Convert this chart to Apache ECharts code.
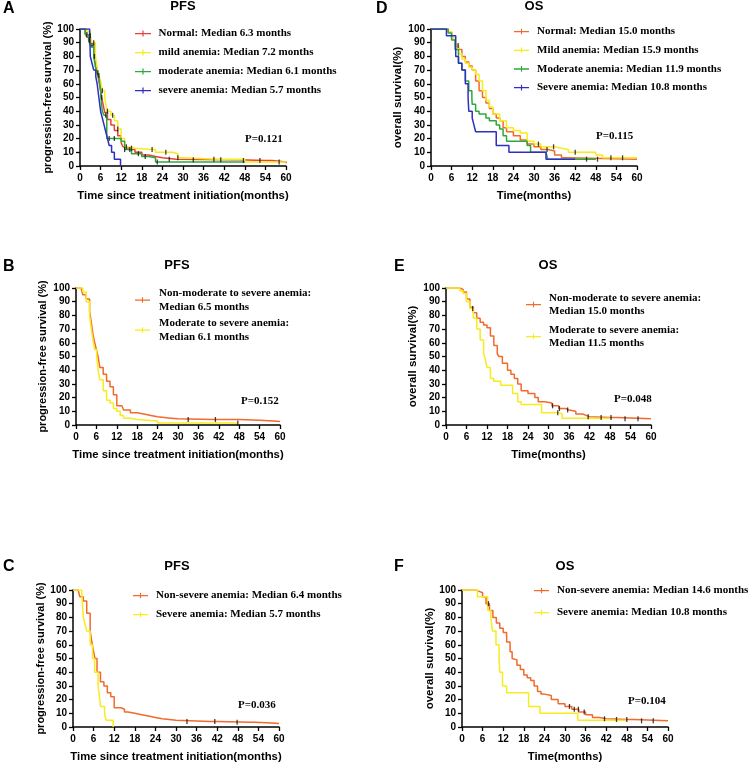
<!DOCTYPE html>
<html><head><meta charset="utf-8">
<script src="https://cdn.jsdelivr.net/npm/echarts@6/dist/echarts.min.js"></script>
<style>html,body{margin:0;padding:0;background:#fff;}#c{width:753px;height:765px;}</style>
</head><body><div id="c"></div>
<script>
// ---- Panel A: PFS by anemia grade ([months, % surviving]) ----
const pfsNormal = [[0,100],[1.5,97],[2,94],[3,90],[4,82],[4.5,75],[5,68],[5.5,62],[6,55],[6.3,50],[6.8,44],[7.2,39],[8,34],[9,30],[10,26],[11,22],[12,17],[12.5,14],[14,12],[16,10],[18,8],[20,7],[22,6],[24,5],[28,4.5],[44,4.5],[46,4],[54,4],[56,3.5],[58,3],[60,2]];
const pfsMild = [[0,100],[2,98],[3,95],[3.5,90],[4.5,80],[5,72],[5.5,66],[6,62],[6.5,55],[7.2,50],[7.5,45],[8,40],[9,37],[10,33],[11,27],[12,20],[13,14],[14,13],[16,12],[21,12],[22,10],[27,9],[28.5,6],[30,5],[40,5],[48,3],[60,2.5]];
const pfsModerate = [[0,100],[1.5,96],[2.5,92],[3,88],[4,80],[4.5,72],[5,68],[5.5,65],[6,55],[6.1,50],[6.5,40],[7,37],[7.8,20],[11.2,20],[12,18],[13,12],[15,9],[18,7],[20,6],[22,3],[48,3]];
const pfsSevere = [[0,100],[2.8,100],[3,80],[3.5,75],[4,70],[4.6,65],[5,60],[5.5,50],[6,40],[6.5,35],[7,30],[7.5,25],[8,20],[8.5,15],[9.2,10],[10,5],[11.8,0]];
const censorA = {normal:[26,33,41,47.6,52.4,58], mild:[3,4,5.5,6.5,8,9.5,11,13.5,15,21,25,28.5,39], moderate:[2,2.7,3.5,4.2,5.2,6.3,7.5,8.5,10,13,14.5,17,19,22.5]};

// ---- Panel D: OS by anemia grade ----
const osNormal = [[0,100],[4,100],[5,98],[6,93],[7,88],[8,85],[9,80],[10,76],[11,73],[12,70],[13,62],[14,55],[15,50],[16,46],[17,42],[18,38],[19,35],[20,33],[21,28],[22,25],[24,22],[26,19],[28,16],[30,14],[32,12],[34,11],[36,8],[38,6],[40,5],[60,5]];
const osMild = [[0,100],[5,98],[6,93],[7,88],[8,82],[9,78],[10,75],[11,72],[12,70],[13,67],[14,62],[15,55],[16,48],[17,43],[18,38],[20,33],[22,28],[24,26],[26,24],[28,18],[30,16],[32,14],[36,13],[38,12],[40,10],[48,8],[50,6],[60,6]];
const osModerate = [[0,100],[5,97],[6,92],[7,85],[8,75],[9,70],[10,62],[11,55],[11.9,50],[12,45],[13,40],[14,38],[16,35],[17,33],[19,30],[20,27],[21,22],[22,18],[27,18],[28,15],[29,10],[33.5,9],[34,5],[48,5]];
const osSevere = [[0,100],[4.5,95],[7.2,80],[8,75],[9,70],[10,60],[10.8,50],[11,40],[12,35],[12.5,30],[13,25],[19,15],[22.7,10],[33.5,5],[42,5]];
const censorD = {normal:[33.8,45.3,48.5], mild:[7.9,31.3,35.7,42,52.4,55.8]};

// ---- Panel B: PFS, moderate-to-severe anemia vs not ----
const pfsNonMod = [[0,100],[1.5,100],[2,95],[3,92],[4,83],[4.5,75],[5,66],[5.5,60],[6,55],[6.5,50],[7,42],[8,37],[9,32],[10,28],[11,22],[12,14],[13.5,13],[14,11],[16,9],[18,8],[20,7],[22,6],[24,5],[28,4.5],[30,4],[40,4],[48,3.5],[54,3],[58,2.5],[60,2]];
const pfsModSev = [[0,100],[2,97],[3,90],[4,80],[4.5,70],[5,62],[5.5,55],[6.1,50],[6.5,40],[7,33],[8,25],[9,18],[10,16],[11,12],[12,10],[13,7],[14,5],[16,4],[18,3],[24,1.5],[47.6,1.5]];
const censorB = {nonMod:[33,41], modSev:[47.6]};

// ---- Panel E: OS, moderate-to-severe anemia vs not ----
const osNonMod = [[0,100],[3,100],[4,99],[5,97],[6,92],[7,86],[8,82],[9,78],[10,75],[11,73],[12,71],[13,65],[14,58],[15,52],[15.5,50],[16.5,45],[18,40],[19,37],[20,34],[21,30],[22,25],[24,23],[26,20],[27,17],[29,16],[31,14],[33,12],[35,11],[36,10],[38,8],[40,7],[41,6],[42,5.5],[48,5.5],[50,4.5],[60,4.5]];
const osModSev = [[0,100],[3,100],[4,98],[5,96],[6,90],[7,85],[8,78],[9,70],[10,62],[11,52],[11.5,48],[12,42],[13,34],[14,32],[16,29],[19.5,23],[21,17],[22,15],[28,9],[33,8],[34,5],[48,5]];
const censorE = {nonMod:[31.2,33.2,35.6,41.6,45.4,48.3,52.4,56.2], modSev:[7.8,32.7]};

// ---- Panel C: PFS, severe anemia vs not ----
const pfsNonSev = [[0,100],[1.5,100],[2,95],[3,92],[4,83],[5,70],[5.5,62],[6,55],[6.4,50],[7,40],[8,33],[9,30],[10,25],[11,22],[12,14],[14,13],[15,11],[16,10],[18,9],[20,8],[22,7],[24,6],[26,5.5],[28,5],[30,4],[40,4],[42,3.5],[52,3.5],[53,3],[58,2.5],[60,2]];
const pfsSev = [[0,100],[2.5,100],[3,80],[3.5,75],[4,70],[5,60],[5.7,50],[6.3,40],[7.3,30],[7.8,20],[8,15],[9.2,10],[9.6,5],[11.7,0]];
const censorC = {nonSev:[33.2,41.3,47.8]};

// ---- Panel F: OS, severe anemia vs not ----
const osNonSev = [[0,100],[3,100],[4,99],[5,98],[6,95],[7,90],[8,85],[9,80],[10,76],[11,72],[12,69],[13,62],[14,55],[14.6,50],[15,49],[16,45],[17,42],[18,38],[19,36],[20,34],[21,30],[22,26],[23,24],[24,23],[26,20],[28,17],[30,15],[32,13],[34,11],[36,9],[38,7],[40,6],[42,5.5],[48,5.5],[50,4.5],[60,4.5]];
const osSev = [[0,100],[4.5,95],[7.5,85],[8.4,80],[8.9,70],[9.9,60],[10.8,50],[11,40],[11.8,30],[13,25],[19.4,15],[22.7,10],[33.7,5],[48,5]];
const censorF = {nonSev:[7.7,31.3,32.7,33.9,35.6,41.5,45,48,52.3,55.7]};

// ---- labels ----
const xTicks = {min:0, max:60, step:6};
const yTicks = {min:0, max:100, step:10};
const panelLetters = ['A','D','B','E','C','F'];
const panelTitles = ['PFS','OS','PFS','OS','PFS','OS'];
const pValues = ['P=0.121','P=0.115','P=0.152','P=0.048','P=0.036','P=0.104'];
const xNames = ['Time since treatment initiation(months)','Time(months)','Time since treatment initiation(months)','Time(months)','Time since treatment initiation(months)','Time(months)'];
const yNames = ['progression-free survival (%)','overall survival(%)','progression-free survival (%)','overall survival(%)','progression-free survival (%)','overall survival(%)'];

const RED='#E8413A', ORANGE='#F26A2C', YELLOW='#F6EC1E', GREEN='#2DAA3C', BLUE='#2E2EC4';

const panels = [
  {curves:[['Normal: Median 6.3 months',pfsNormal,RED,censorA.normal],['mild anemia: Median 7.2 months',pfsMild,YELLOW,censorA.mild],['moderate anemia: Median 6.1 months',pfsModerate,GREEN,censorA.moderate],['severe anemia: Median 5.7 months',pfsSevere,BLUE,[]]]},
  {curves:[['Normal: Median 15.0 months',osNormal,ORANGE,censorD.normal],['Mild anemia: Median 15.9 months',osMild,YELLOW,censorD.mild],['Moderate anemia: Median 11.9 months',osModerate,GREEN,[]],['Severe anemia: Median 10.8 months',osSevere,BLUE,[]]]},
  {curves:[['Non-moderate to severe anemia:\nMedian 6.5 months',pfsNonMod,ORANGE,censorB.nonMod],['Moderate to severe anemia:\nMedian 6.1 months',pfsModSev,YELLOW,censorB.modSev]]},
  {curves:[['Non-moderate to severe anemia:\nMedian 15.0 months',osNonMod,ORANGE,censorE.nonMod],['Moderate to severe anemia:\nMedian 11.5 months',osModSev,YELLOW,censorE.modSev]]},
  {curves:[['Non-severe anemia: Median 6.4 months',pfsNonSev,ORANGE,censorC.nonSev],['Severe anemia: Median 5.7 months',pfsSev,YELLOW,[]]]},
  {curves:[['Non-severe anemia: Median 14.6 months',osNonSev,ORANGE,censorF.nonSev],['Severe anemia: Median 10.8 months ',osSev,YELLOW,[]]]}
];

// layout (pixels)
const grids = [
  {left:80, top:29, width:206, height:137},
  {left:431, top:29, width:206, height:137},
  {left:76, top:288, width:204, height:137},
  {left:446, top:288, width:205, height:137},
  {left:73, top:590, width:206, height:137},
  {left:462, top:590, width:206, height:137}
];
const letterPos = [[3,1],[376,1],[3,259],[394,259],[3,559],[394,559]];
const titlePos = [[183,0],[534,0],[177,259],[548,259],[177,560],[565,560]];
const pPos = [[245,134],[596,131],[241,396],[614,394],[238,700],[628,696]];
const yNameGap = [26,27,28,27,24,26];
const legendLay = [
  {left:135, top:27, w:17, gap:6, lh:13, pad:2},
  {left:514, top:25, w:15, gap:5.7, lh:13, pad:3},
  {left:135, top:286, w:15, gap:2, lh:14, pad:4},
  {left:526, top:291, w:15, gap:5, lh:13.5, pad:3},
  {left:133, top:589, w:15, gap:6, lh:13, pad:3},
  {left:534, top:584, w:15, gap:9, lh:13, pad:3}
];

function survAt(curve, t){
  let s = curve[0][1];
  for (const p of curve){ if (p[0] <= t) s = p[1]; else break; }
  return s;
}

const SANS = 'Liberation Sans, Arial, sans-serif';
const SERIF = 'Liberation Serif, Times New Roman, serif';

const option = {
  animation:false,
  backgroundColor:'#fff',
  title:[], grid:[], xAxis:[], yAxis:[], legend:[], series:[]
};

panels.forEach((p,i)=>{
  option.grid.push(grids[i]);
  option.xAxis.push({
    type:'value', gridIndex:i, min:xTicks.min, max:xTicks.max, interval:xTicks.step,
    axisLine:{lineStyle:{color:'#000', width:1.5}},
    axisTick:{length:4, lineStyle:{color:'#000', width:1.3}},
    axisLabel:{color:'#000', fontFamily:SANS, fontWeight:'bold', fontSize:10, margin:7},
    splitLine:{show:false},
    name:xNames[i], nameLocation:'middle', nameGap:24,
    nameTextStyle:{color:'#000', fontFamily:SANS, fontWeight:'bold', fontSize:11.3}
  });
  option.yAxis.push({
    type:'value', gridIndex:i, min:yTicks.min, max:yTicks.max, interval:yTicks.step,
    axisLine:{show:true, lineStyle:{color:'#000', width:1.5}},
    axisTick:{show:true, length:4, lineStyle:{color:'#000', width:1.3}},
    axisLabel:{color:'#000', fontFamily:SANS, fontWeight:'bold', fontSize:10, margin:6},
    splitLine:{show:false},
    name:yNames[i], nameLocation:'middle', nameGap:yNameGap[i],
    nameTextStyle:{color:'#000', fontFamily:SANS, fontWeight:'bold', fontSize: (i%2===0?11:11.5)}
  });
  option.title.push({text:panelLetters[i], left:letterPos[i][0], top:letterPos[i][1], padding:0,
    textStyle:{fontFamily:SANS, fontWeight:'bold', fontSize:16, color:'#000'}});
  option.title.push({text:panelTitles[i], left:titlePos[i][0], top:titlePos[i][1], padding:0, textAlign:'center',
    textStyle:{fontFamily:SANS, fontWeight:'bold', fontSize:13, color:'#000'}});
  option.title.push({text:pValues[i], left:pPos[i][0], top:pPos[i][1], padding:0,
    textStyle:{fontFamily:SANS, fontWeight:'bold', fontSize:11, color:'#000', fontFamily:SERIF}});
  const L = legendLay[i];
  option.legend.push({
    orient:'vertical', left:L.left, top:L.top, padding:0, itemGap:L.gap,
    itemWidth:L.w, itemHeight:6,
    icon:'path://M0,2.4h16v1.4h-16z M7.4,0h1.2v6h-1.2z',
    data:p.curves.map(c=>c[0]),
    textStyle:{fontFamily:SERIF, fontWeight:'bold', fontSize:11, color:'#000', lineHeight:L.lh, padding:[0,0,0,L.pad]}
  });
  p.curves.forEach(c=>{
    option.series.push({
      name:c[0], type:'line', step:'end', xAxisIndex:i, yAxisIndex:i,
      data:c[1], showSymbol:false, symbol:'none',
      lineStyle:{color:c[2], width:1.5}, itemStyle:{color:c[2]}, z:2
    });
    if (c[3].length){
      option.series.push({
        type:'scatter', xAxisIndex:i, yAxisIndex:i, silent:true,
        data:c[3].map(t=>[t, survAt(c[1], t)]),
        symbol:'rect', symbolSize:[1.3,5], itemStyle:{color:'#111'}, z:3
      });
    }
  });
});

const chart = echarts.init(document.getElementById('c'), null, {renderer:'canvas'});
chart.setOption(option);
</script>
</body></html>
